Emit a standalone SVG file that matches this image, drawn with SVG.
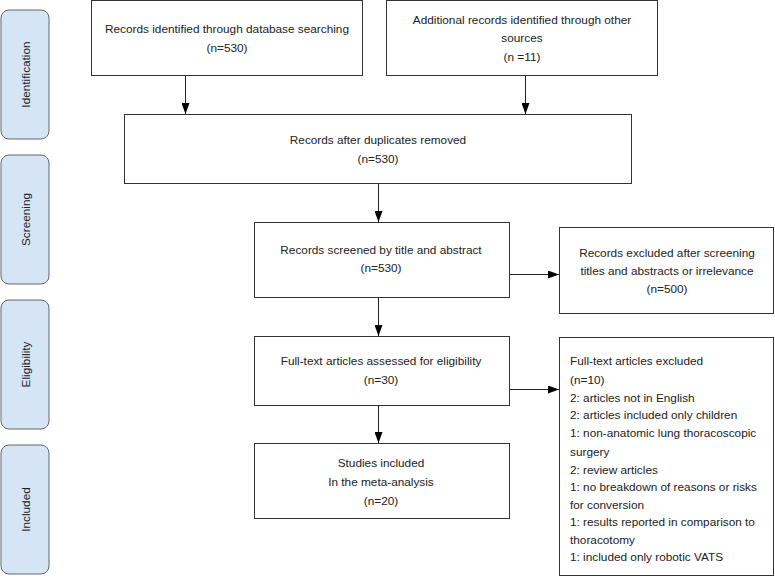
<svg xmlns="http://www.w3.org/2000/svg" width="775" height="586" viewBox="0 0 775 586">
<style>
.box{fill:#fff;stroke:#333;stroke-width:1}
.side{fill:#d5e5f6;stroke:#666;stroke-width:1}
text{font-family:"Liberation Sans",Arial,sans-serif;font-size:11.8px;fill:#222}
.c{text-anchor:middle}
.conn{stroke:#222;stroke-width:1;fill:none}
</style>
<defs>
<marker id="ah" viewBox="0 0 11 8" refX="11" refY="4" markerWidth="11" markerHeight="8" markerUnits="userSpaceOnUse" orient="auto">
<path d="M0,0 L11,4 L0,8 z" fill="#000"/>
</marker>
</defs>
<g id="side-identification"><rect class="side" x="1" y="10" width="48" height="129" rx="8"/><text class="c" transform="translate(29.5,74.5) rotate(-90)">Identification</text></g>
<g id="side-screening"><rect class="side" x="1" y="155" width="48" height="129" rx="8"/><text class="c" transform="translate(29.5,219.5) rotate(-90)">Screening</text></g>
<g id="side-eligibility"><rect class="side" x="1" y="300" width="48" height="129" rx="8"/><text class="c" transform="translate(29.5,364.5) rotate(-90)">Eligibility</text></g>
<g id="side-included"><rect class="side" x="1" y="445" width="48" height="129" rx="8"/><text class="c" transform="translate(29.5,509.5) rotate(-90)">Included</text></g>

<g id="n1"><rect class="box" x="91.5" y="0.5" width="271" height="75"/><text class="c" x="227" y="33">Records identified through database searching</text><text class="c" x="227" y="52">(n=530)</text></g>
<g id="n2"><rect class="box" x="386.5" y="0.5" width="271" height="75"/><text class="c" x="522" y="24">Additional records identified through other</text><text class="c" x="522" y="42">sources</text><text class="c" x="522" y="61">(n =11)</text></g>
<g id="n3"><rect class="box" x="124.5" y="114.5" width="507" height="69"/><text class="c" x="378" y="144">Records after duplicates removed</text><text class="c" x="378" y="163">(n=530)</text></g>
<g id="n4"><rect class="box" x="254.5" y="222.5" width="255" height="75"/><text class="c" x="381" y="254">Records screened by title and abstract</text><text class="c" x="381" y="272">(n=530)</text></g>
<g id="n5"><rect class="box" x="559.5" y="227.5" width="214" height="86"/><text class="c" x="667" y="257">Records excluded after screening</text><text class="c" x="667" y="275">titles and abstracts or irrelevance</text><text class="c" x="667" y="293">(n=500)</text></g>
<g id="n6"><rect class="box" x="254.5" y="336.5" width="255" height="69"/><text class="c" x="381" y="365">Full-text articles assessed for eligibility</text><text class="c" x="381" y="384">(n=30)</text></g>
<g id="n7"><rect class="box" x="559.5" y="337.5" width="214" height="238"/>
<text x="570"><tspan x="570" y="365">Full-text articles excluded</tspan><tspan x="570" y="384">(n=10)</tspan><tspan x="570" y="402">2: articles not in English</tspan><tspan x="570" y="419">2: articles included only children</tspan><tspan x="570" y="437">1: non-anatomic lung thoracoscopic</tspan><tspan x="570" y="456">surgery</tspan><tspan x="570" y="474">2: review articles</tspan><tspan x="570" y="491">1: no breakdown of reasons or risks</tspan><tspan x="570" y="509">for conversion</tspan><tspan x="570" y="526">1: results reported in comparison to</tspan><tspan x="570" y="544">thoracotomy</tspan><tspan x="570" y="561">1: included only robotic VATS</tspan></text></g>
<g id="n8"><rect class="box" x="254.5" y="443.5" width="255" height="75"/><text class="c" x="381" y="467">Studies included</text><text class="c" x="381" y="486">In the meta-analysis</text><text class="c" x="381" y="505">(n=20)</text></g>

<g id="connectors">
<line class="conn" x1="185.5" y1="76" x2="185.5" y2="114" marker-end="url(#ah)"/>
<line class="conn" x1="525.5" y1="76" x2="525.5" y2="114" marker-end="url(#ah)"/>
<line class="conn" x1="378.5" y1="184" x2="378.5" y2="222" marker-end="url(#ah)"/>
<line class="conn" x1="510" y1="274.5" x2="559" y2="274.5" marker-end="url(#ah)"/>
<line class="conn" x1="378.5" y1="298" x2="378.5" y2="336" marker-end="url(#ah)"/>
<line class="conn" x1="510" y1="389.5" x2="559" y2="389.5" marker-end="url(#ah)"/>
<line class="conn" x1="378.5" y1="406" x2="378.5" y2="443" marker-end="url(#ah)"/>
</g>
</svg>
